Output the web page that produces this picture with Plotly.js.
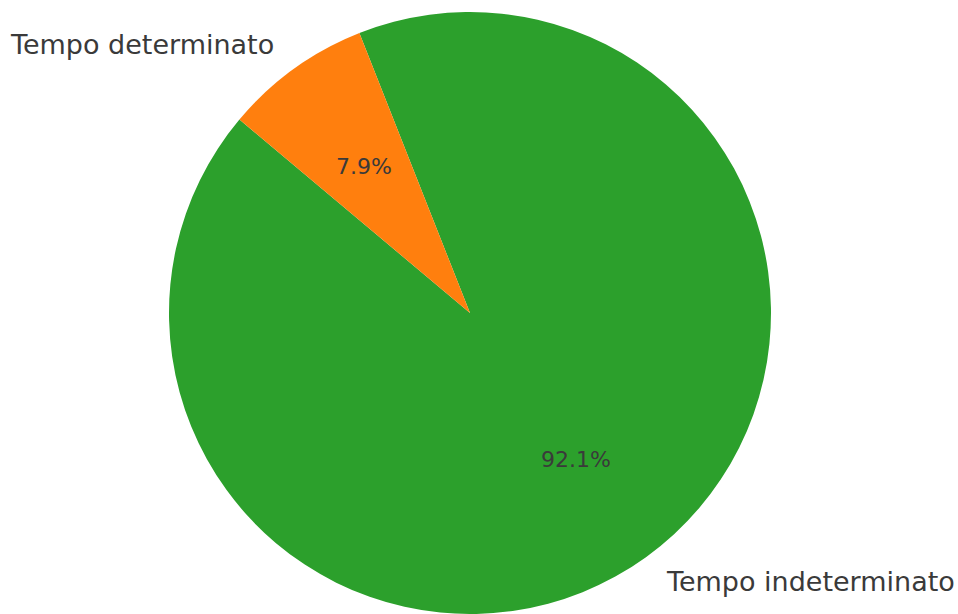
<!DOCTYPE html>
<html>
<head>
<meta charset="utf-8">
<script src="https://cdn.plot.ly/plotly-3.0.1.min.js"></script>
<style>html,body{margin:0;padding:0;background:#fff;}#chart{width:958px;height:614px;}</style>
</head>
<body>
<div id="chart"></div>
<script>
const labels = ["Tempo indeterminato", "Tempo determinato"];
const values = [92.1, 7.9];
const colors = ["#2ca02c", "#ff7f0e"];

const W = 958, H = 614;
const cx = 470, cy = 313, R = 301;
const startAngle = 140; // degrees, counterclockwise from +x (start of first slice)

const total = values.reduce((a, b) => a + b, 0);
const annotations = [];
let a0 = startAngle;
values.forEach((v, i) => {
  const span = v / total * 360;
  const mid = (a0 + span / 2) * Math.PI / 180;
  a0 += span;
  const cosm = Math.cos(mid), sinm = Math.sin(mid);
  annotations.push({
    xref: 'paper', yref: 'paper',
    x: (cx + 0.6 * R * cosm) / W, y: 1 - (cy - 0.6 * R * sinm) / H,
    xanchor: 'center', yanchor: 'middle', showarrow: false,
    text: (v / total * 100).toFixed(1) + '%',
    font: {family: 'DejaVu Sans', size: 22, color: '#3a3a3a'}
  });
  annotations.push({
    xref: 'paper', yref: 'paper',
    x: (cx + 1.1 * R * cosm) / W, y: 1 - (cy - 1.1 * R * sinm) / H,
    xanchor: cosm >= 0 ? 'left' : 'right', yanchor: 'middle', showarrow: false,
    text: labels[i],
    font: {family: 'DejaVu Sans', size: 27, color: '#3a3a3a'}
  });
});

// Plotly (counterclockwise): first slice ends at the rotation line
const firstSpan = values[0] / total * 360;
const trace = {
  type: 'pie',
  labels: labels,
  values: values,
  sort: false,
  direction: 'counterclockwise',
  rotation: 90 - (startAngle + firstSpan - 360),
  marker: {colors: colors, line: {width: 0}},
  textinfo: 'none',
  hoverinfo: 'label+percent',
  showlegend: false,
  domain: {x: [(cx - R) / W, (cx + R) / W], y: [(H - cy - R) / H, (H - cy + R) / H]}
};

const layout = {
  width: W, height: H,
  margin: {l: 0, r: 0, t: 0, b: 0},
  paper_bgcolor: '#ffffff',
  plot_bgcolor: '#ffffff',
  showlegend: false,
  annotations: annotations
};

Plotly.newPlot('chart', [trace], layout, {displayModeBar: false, staticPlot: true});
</script>
</body>
</html>
